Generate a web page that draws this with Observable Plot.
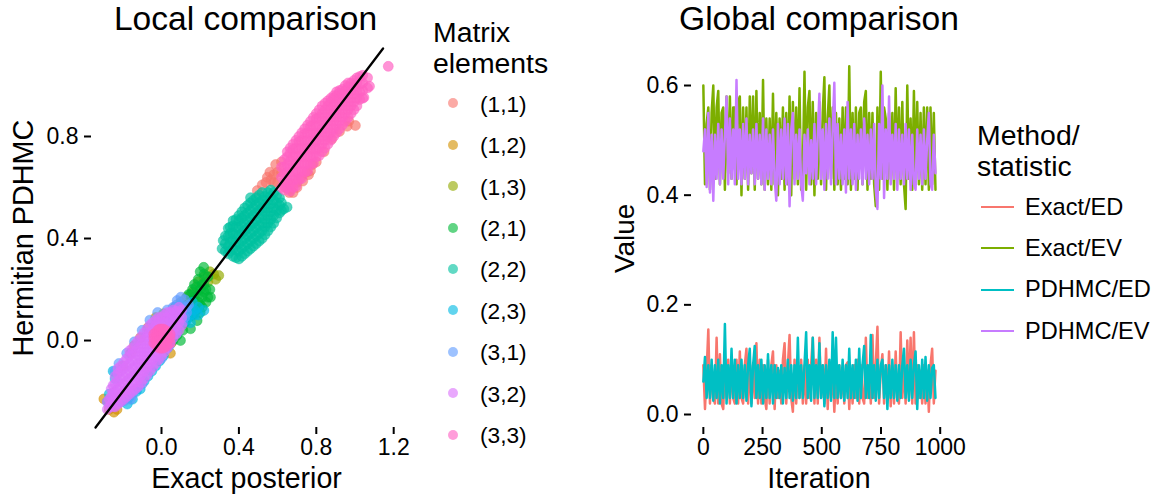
<!DOCTYPE html>
<html>
<head>
<meta charset="utf-8">
<script src="https://cdn.jsdelivr.net/npm/d3@7"></script>
<script src="https://cdn.jsdelivr.net/npm/@observablehq/plot@0.6"></script>
<style>
html,body{margin:0;padding:0;background:#fff;}
#page{position:relative;width:1155px;height:497px;overflow:hidden;font-family:"Liberation Sans",Arial,sans-serif;color:#000;}
#page svg{position:absolute;top:0;overflow:visible;background:transparent;}
.t{position:absolute;white-space:nowrap;line-height:normal;}
.sw{position:absolute;}
</style>
</head>
<body>
<div id="page"></div>
<script>
const elementLabels = ["(1,1)","(1,2)","(1,3)","(2,1)","(2,2)","(2,3)","(3,1)","(3,2)","(3,3)"];
const elementColors = ["#F8766D","#D39200","#93AA00","#00BA38","#00C19F","#00B9E3","#619CFF","#DB72FB","#FF61C3"];
const methodLabels = ["Exact/ED","Exact/EV","PDHMC/ED","PDHMC/EV"];
const methodColors = ["#F8766D","#7CAE00","#00BFC4","#C77CFF"];
const xTicksLocal = [0,0.4,0.8,1.2];
const yTicksLocal = [0,0.4,0.8];
const xTicksGlobal = [0,250,500,750,1000];
const yTicksGlobal = [0,0.2,0.4,0.6];
const identityLine = [[-0.341,-0.341],[1.145,1.145]];

// Each row: exact value first, then the PDHMC values seen at that exact value.
const el11 = [[.495,.588],[.52,.61],[.547,.64],[.54,.62],[.56,.66],[.565,.63],[.58,.65],[.58,.62],[.59,.69],[.60,.66],[.60,.62],[.62,.70],[.62,.66],[.64,.60],[.65,.62],[.667,.593],[.66,.58],[.68,.58],[.70,.60],[.70,.62],[.72,.64],[.73,.625],[.75,.66],[.76,.65],[.77,.666],[.78,.69],[.80,.70],[.84,.74],[.88,.79],[.92,.82],[.96,.84],[.968,.86],[1.002,.843]];
const el12 = [[-.298,-.229],[-.246,-.281],[-.27,-.27],[-.23,-.27],[-.26,-.25],[-.16,-.05],[-.14,-.02],[-.11,.01],[-.07,.05],[-.03,.09],[.01,.105],[-.20,-.10],[.05,-.01],[.046,-.05]];
const el13 = [[.296,.255],[.27,.26],[.25,.27],[.22,.25],[.19,.23],[.16,.19],[.13,.17],[.10,.15],[.07,.13],[.28,.24],[.24,.23]];
const el21 = [[.218,.287],[.20,.27],[.19,.24],[.22,.26],[.24,.25],[.16,.20],[.18,.21],[.21,.22],[.25,.20],[.24,.17],[.253,.17],[.22,.19],[.19,.18],[.16,.16],[.14,.18],[.13,.14],[.17,.13],[.20,.14],[.23,.15],[.167,.105],[.14,.09],[.12,.07],[.11,.04],[.08,.02],[.06,0],[.10,.11],[.2,.11],[.184,.078],[.15,.046],[.098,0],[.15,.14],[.17,.17],[.19,.15],[.21,.17],[.18,.12],[.21,.13],[.2,.2],[.17,.22],[.15,.18],[.23,.2],[.22,.22],[.12,.1],[.14,.12],[.16,.1]];
const el22Rows = [[.313,.36],[.319,.392],[.33,.35,.38,.41],[.345,.34,.37,.41,.44],[.355,.35,.385,.42,.445],[.37,.33,.36,.39,.42,.45,.47],[.385,.325,.355,.385,.415,.445,.475],[.40,.32,.35,.38,.41,.44,.47,.49],[.415,.33,.36,.39,.42,.45,.48,.505],[.43,.34,.37,.40,.43,.46,.49,.52],[.445,.35,.38,.41,.44,.47,.50,.53],[.46,.36,.39,.42,.45,.48,.51,.54,.56],[.475,.37,.40,.43,.46,.49,.52,.55],[.49,.38,.41,.44,.47,.50,.53,.56],[.505,.39,.42,.45,.48,.51,.54,.57],[.52,.40,.43,.46,.49,.52,.55,.58],[.535,.415,.445,.475,.505,.535,.565],[.55,.43,.46,.49,.52,.55,.58],[.565,.445,.475,.505,.535,.565,.59],[.58,.46,.49,.52,.55,.58],[.595,.48,.51,.54,.57],[.61,.50,.53,.56],[.62,.51,.54],[.632,.516],[.649,.523]];
const el23 = [[.219,.118],[.19,.13],[.17,.12],[.15,.10],[.13,.08],[.11,.11],[.09,.06],[.07,.03],[.05,0],[.03,-.03],[.13,.13],[.16,.15],[.10,.14],[.07,.13],[-.01,-.08],[-.05,-.12],[-.09,-.16],[-.13,-.20],[-.17,-.225],[-.177,-.249],[-.21,-.24],[-.25,-.12],[-.27,-.21],[-.24,-.15],[-.28,-.24],[.15,.12],[.17,.10],[.19,.10],[.13,.10],[.11,.08],[.15,.07],[.08,.05],[-.15,-.23],[-.11,-.19],[-.07,-.14],[-.03,-.10],[.01,-.06],[.06,.02]];
const el31 = [[.081,.157],[.10,.17],[.12,.16],[.14,.14],[.09,.12],[.06,.13],[.13,.11],[.05,.10],[.03,.12],[-.10,-.17],[-.13,-.19],[-.15,-.21],[-.19,-.235],[-.16,-.23],[-.24,-.12],[-.22,-.09],[-.18,-.05],[-.14,-.005],[-.10,.04],[-.06,.08],[-.02,.11],[0,-.07],[.04,-.02],[.08,.03],[.11,.07],[.07,.10],[.09,.09],[.11,.13],[.12,.09],[.10,.10],[.13,.13],[.06,.07],[.03,.09],[.08,.14],[.04,.06]];
const el32Rows = [[-.28,-.27,-.24],[-.27,-.26,-.23],[-.26,-.25,-.22,-.19],[-.25,-.26,-.235,-.205,-.175],[-.24,-.26,-.23,-.20,-.17,-.14],[-.225,-.25,-.22,-.19,-.16,-.13,-.11],[-.21,-.24,-.21,-.18,-.15,-.12,-.10],[-.195,-.23,-.20,-.17,-.14,-.11,-.085],[-.18,-.22,-.19,-.16,-.13,-.10,-.07],[-.165,-.21,-.18,-.15,-.12,-.09,-.06,-.04],[-.15,-.20,-.17,-.14,-.11,-.08,-.05,-.03],[-.135,-.19,-.165,-.135,-.105,-.075,-.045,-.015],[-.12,-.18,-.15,-.12,-.09,-.06,-.03,0],[-.105,-.165,-.135,-.105,-.075,-.045,-.015,.015],[-.09,-.15,-.12,-.09,-.06,-.03,0,.03],[-.075,-.135,-.105,-.075,-.045,-.015,.015,.045],[-.06,-.12,-.09,-.06,-.03,0,.03,.06],[-.045,-.105,-.075,-.045,-.015,.015,.045,.07],[-.03,-.09,-.06,-.03,0,.03,.06,.08],[-.015,-.075,-.045,-.015,.015,.045,.075,.09],[0,-.06,-.03,0,.03,.06,.09],[.015,-.045,-.015,.015,.045,.075,.10],[.03,-.03,0,.03,.06,.09,.11],[.045,-.01,.02,.05,.08,.11],[.06,.01,.04,.07,.10,.12],[.075,.025,.055,.085,.115],[.09,.04,.07,.10,.13],[.105,.06,.09,.12]];
const el33Rows = [[-.04,-.01,.01,.025],[-.03,-.015,.01,.03],[-.02,-.025,-.01,.01,.03,.04],[-.01,-.03,-.01,.01,.03,.045],[0,-.03,-.01,.01,.03,.045],[.01,-.03,-.01,.01,.03,.045],[.02,-.025,-.01,.01,.03,.04],[.03,-.02,0,.02,.035],[.045,-.01,.01,.025],
[.62,.60,.64,.68],[.635,.59,.62,.65,.68,.71],[.65,.60,.63,.66,.69,.72,.74],[.665,.585,.615,.645,.675,.705,.735,.755],[.68,.60,.63,.66,.69,.72,.75,.77],[.695,.605,.635,.665,.695,.725,.755,.785],[.71,.63,.66,.69,.72,.75,.78,.80],[.725,.635,.665,.695,.725,.755,.785,.815],[.74,.66,.69,.72,.75,.78,.81,.83],[.755,.665,.695,.725,.755,.785,.815,.845],[.77,.69,.72,.75,.78,.81,.84,.86],[.785,.695,.725,.755,.785,.815,.845,.875],[.80,.72,.75,.78,.81,.84,.87,.89],[.815,.725,.755,.785,.815,.845,.875,.905],[.83,.74,.77,.80,.83,.86,.89,.92],[.845,.755,.785,.815,.845,.875,.905,.93],[.86,.77,.80,.83,.86,.89,.92,.94],[.875,.785,.815,.845,.875,.905,.935,.95],[.89,.80,.83,.86,.89,.92,.95,.96],[.905,.815,.845,.875,.905,.935,.96,.975],[.92,.83,.86,.89,.92,.95,.97,.98],[.935,.845,.875,.905,.935,.965,.985],[.95,.86,.89,.92,.95,.98,1.0],[.965,.875,.905,.935,.965,.995,1.01],[.98,.89,.92,.95,.98,1.01],[.995,.905,.935,.965,.995,1.02],[1.01,.92,.95,.98,1.01,1.03],[1.025,.945,.975,1.005,1.035],[1.04,.95,.98,1.01,1.04],[1.046,.953],[1.065,.99,1.03],[1.075,.997],[1.172,1.075]];
const rowsToPairs = rows => rows.flatMap(([x,...ys]) => ys.map(y => [x,y]));
const elementPoints = [el11,el12,el13,el21,rowsToPairs(el22Rows),el23,el31,rowsToPairs(el32Rows),rowsToPairs(el33Rows)];

const exactED = [.09,.01,.08,.155,.02,.09,.03,.02,.14,.02,
.11,.02,.01,.09,.03,.10,.02,.09,.03,.02,
.10,.02,.115,.03,.02,.09,.12,.02,.10,.02,
.09,.03,.13,.02,.10,.02,.09,.03,.01,.10,
.02,.09,.115,.01,.09,.03,.08,.02,.10,.13,
.02,.09,.145,.03,.005,.10,.02,.09,.03,.10,
.02,.09,.02,.10,.03,.09,.14,.02,.10,.02,
.14,.03,.09,.02,.12,.01,.09,.03,.09,.005,
.08,.02,.09,.03,.08,.02,.09,.095,.01,.08,
.02,.09,.03,.10,.02,.09,.03,.02,.14,.03,
.09,.02,.145,.03,.09,.16,.02,.08,.11,.02,
.09,.03,.115,.015,.09,.02,.115,.03,.02,.15,
.03,.09,.02,.135,.03,.14,.02,.15,.02,.09,
.03,.08,.02,.09,.02,.08,.005,.09,.12,.02,.08];
const exactEV = [.60,.42,.53,.56,.41,.55,.60,.43,.56,.59,
.42,.55,.56,.41,.58,.44,.58,.43,.56,.56,
.42,.57,.58,.40,.56,.43,.56,.41,.58,.44,
.58,.41,.59,.43,.55,.42,.61,.41,.54,.42,
.54,.41,.585,.42,.55,.40,.54,.43,.56,.41,
.55,.42,.58,.40,.57,.43,.56,.42,.595,.41,
.44,.625,.41,.56,.59,.42,.57,.40,.55,.43,
.57,.42,.55,.615,.41,.54,.60,.43,.56,.41,
.55,.42,.54,.41,.56,.43,.56,.42,.635,.41,
.55,.43,.56,.41,.55,.56,.42,.57,.59,.41,
.55,.43,.55,.42,.38,.56,.41,.625,.43,.56,
.54,.41,.55,.43,.55,.41,.595,.43,.56,.42,
.57,.42,.375,.60,.43,.54,.41,.59,.42,.57,
.42,.55,.41,.56,.42,.56,.41,.56,.42,.55,.41];
const pdhmcED = [.06,.105,.03,.09,.03,.10,.025,.09,.03,.10,
.02,.09,.03,.165,.02,.09,.03,.12,.03,.10,
.02,.09,.03,.10,.03,.09,.025,.09,.12,.015,
.09,.125,.03,.09,.03,.10,.02,.09,.03,.11,
.03,.09,.02,.09,.03,.085,.03,.09,.02,.085,
.03,.10,.03,.09,.025,.09,.03,.14,.03,.09,
.03,.09,.15,.03,.09,.025,.14,.03,.09,.03,
.13,.03,.09,.015,.09,.03,.10,.025,.15,.03,
.14,.03,.09,.03,.10,.025,.09,.03,.12,.03,
.09,.03,.10,.025,.12,.03,.09,.125,.03,.09,
.03,.145,.03,.09,.025,.10,.03,.09,.10,.03,
.09,.01,.09,.03,.10,.03,.09,.025,.09,.03,
.09,.12,.03,.09,.025,.10,.03,.09,.115,.01,
.09,.03,.10,.03,.105,.025,.09,.03,.085,.09,.03];
const pdhmcEV = [.48,.52,.415,.55,.405,.51,.39,.51,.43,.53,
.42,.52,.43,.51,.58,.42,.54,.43,.52,.42,
.61,.43,.52,.42,.53,.43,.54,.42,.51,.44,
.52,.42,.53,.43,.51,.42,.54,.41,.52,.43,
.51,.42,.52,.43,.39,.53,.42,.52,.43,.54,
.42,.53,.38,.52,.55,.42,.51,.43,.52,.42,
.39,.51,.44,.52,.42,.50,.43,.53,.42,.51,
.585,.43,.52,.41,.53,.43,.54,.42,.52,.605,
.42,.53,.43,.51,.42,.52,.405,.57,.43,.52,
.42,.53,.41,.51,.43,.52,.42,.54,.43,.51,
.42,.52,.43,.53,.41,.375,.53,.43,.60,.395,
.52,.43,.58,.42,.51,.43,.53,.41,.52,.43,
.51,.42,.53,.43,.52,.41,.51,.42,.41,.52,
.43,.51,.42,.52,.43,.50,.55,.42,.41,.51,.44];
const methodValues = [exactED,exactEV,pdhmcED,pdhmcEV];
const iterationStep = 7;

const font = "'Liberation Sans',Arial,sans-serif";
const page = document.getElementById("page");

const pointRows = elementPoints.flatMap((pts,i)=>pts.map(p=>({x:p[0],y:p[1],element:elementLabels[i]})));
const left = Plot.plot({
  width:420,height:497,marginLeft:91,marginRight:15,marginTop:48,marginBottom:70,
  style:{fontFamily:font,background:"transparent",color:"#000"},
  x:{domain:[-0.3618,1.261],label:null,ticks:xTicksLocal},
  y:{domain:[-0.341,1.145],label:null,ticks:yTicksLocal},
  color:{domain:elementLabels,range:elementColors},
  marks:[
    Plot.dot(pointRows,{x:"x",y:"y",r:5,fill:"element",fillOpacity:.68,stroke:"element",strokeOpacity:.5,strokeWidth:.8}),
    Plot.line(identityLine,{x:d=>d[0],y:d=>d[1],stroke:"#000",strokeWidth:2.3}),
    Plot.axisX({ticks:xTicksLocal,tickFormat:d3.format(".1f"),tickSize:7,tickPadding:4,fontSize:23,strokeWidth:2,label:null}),
    Plot.axisY({ticks:yTicksLocal,tickFormat:d3.format(".1f"),tickSize:7,tickPadding:6,fontSize:23,strokeWidth:2,label:null})
  ]
});
left.style.left="0px";
page.appendChild(left);

const lineRows = methodValues.flatMap((vals,i)=>vals.map((v,j)=>({iter:j*iterationStep,value:v,method:methodLabels[i]})));
const right = Plot.plot({
  width:360,height:497,marginLeft:91,marginRight:12,marginTop:48,marginBottom:70,
  style:{fontFamily:font,background:"transparent",color:"#000"},
  x:{domain:[-50,1035],label:null,ticks:xTicksGlobal},
  y:{domain:[-0.0237,0.6675],label:null,ticks:yTicksGlobal},
  color:{domain:methodLabels,range:methodColors},
  marks:[
    Plot.line(lineRows,{x:"iter",y:"value",stroke:"method",z:"method",strokeWidth:2.5}),
    Plot.axisX({ticks:xTicksGlobal,tickFormat:d=>String(d),tickSize:7,tickPadding:4,fontSize:23,strokeWidth:2,label:null}),
    Plot.axisY({ticks:yTicksGlobal,tickFormat:d3.format(".1f"),tickSize:7,tickPadding:6,fontSize:23,strokeWidth:2,label:null})
  ]
});
right.style.left="600px";
page.appendChild(right);

function text(s,x,y,size,opts={}){
  const d=document.createElement("div");
  d.className="t";d.textContent=s;
  d.style.fontSize=size+"px";
  d.style.left=x+"px";
  d.style.top=(y-size*0.905)+"px";
  if(opts.center) d.style.transform="translateX(-50%)";
  if(opts.rot){d.style.transformOrigin="0 "+(size*0.905)+"px";d.style.transform="rotate(-90deg) translateX(-50%)";}
  page.appendChild(d);
}
text("Local comparison",245.5,30,33.6,{center:true});
text("Global comparison",819,30,33.6,{center:true});
text("Exact posterior",246.5,488,28.6,{center:true});
text("Iteration",819,488,28.6,{center:true});
text("Hermitian PDHMC",33,238,28.8,{rot:true});
text("Value",634,238,28,{rot:true});

text("Matrix",433,42,28.4);
text("elements",433,72.5,28.4);
const lgY=[103.3,145,186.3,227.7,269,310.3,351.7,393.3,434.7];
elementLabels.forEach((lab,i)=>{
  const c=document.createElement("div");c.className="sw";
  c.style.cssText+=`left:448px;top:${lgY[i]-5}px;width:10px;height:10px;border-radius:50%;background:${elementColors[i]};opacity:.62;`;
  page.appendChild(c);
  text(lab,480,lgY[i]+8,22.7);
});
text("Method/",977,145,28.4);
text("statistic",977,176,28.4);
const lmY=[207,248.3,289.7,331];
methodLabels.forEach((lab,i)=>{
  const c=document.createElement("div");c.className="sw";
  c.style.cssText+=`left:981px;top:${lmY[i]-1.2}px;width:33px;height:2.4px;background:${methodColors[i]};`;
  page.appendChild(c);
  text(lab,1025,lmY[i]+8,23.6);
});
</script>
</body>
</html>
